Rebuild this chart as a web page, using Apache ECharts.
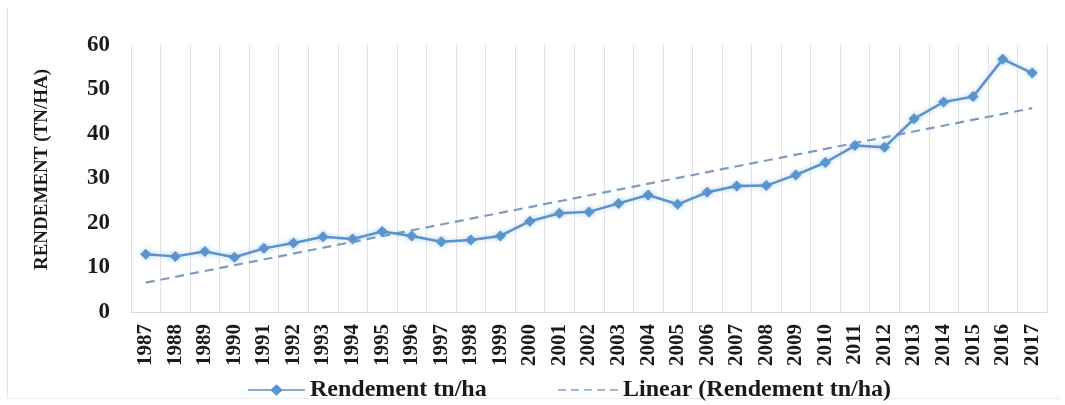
<!DOCTYPE html>
<html>
<head>
<meta charset="utf-8">
<script src="https://cdn.jsdelivr.net/npm/echarts@6/dist/echarts.min.js"></script>
<style>
html,body{margin:0;padding:0;background:#fff;}
#chart{width:1065px;height:405px;}
</style>
</head>
<body>
<div id="chart"></div>
<script>
const years = ['1987','1988','1989','1990','1991','1992','1993','1994','1995','1996','1997','1998','1999','2000','2001','2002','2003','2004','2005','2006','2007','2008','2009','2010','2011','2012','2013','2014','2015','2016','2017'];
const rendement = [13.0,12.5,13.6,12.3,14.3,15.5,16.9,16.4,18.1,17.1,15.8,16.2,17.1,20.4,22.2,22.5,24.4,26.3,24.2,26.9,28.3,28.4,30.8,33.6,37.4,37.0,43.4,47.2,48.4,56.8,53.7];
// trend line endpoints (1987 and 2017)
const trendStart = 6.6;
const trendEnd = 45.8;
const yTicks = { min: 0, max: 60, interval: 10 };
const seriesNames = ['Rendement tn/ha', 'Linear (Rendement tn/ha)'];
const yTitle = 'RENDEMENT (TN/HA)';

const trend = years.map((y, i) => i === 0 ? trendStart : (i === years.length - 1 ? trendEnd : null));

const font = 'Liberation Serif, Times New Roman, serif';
const legendText = { fontFamily: font, fontWeight: 'bold', fontSize: 24, color: '#1a1a1a' };
const chart = echarts.init(document.getElementById('chart'), null, {renderer: 'canvas'});
chart.setOption({
  backgroundColor: '#fff',
  animation: false,
  graphic: [
    { type: 'line', shape: { x1: 7.5, y1: 8, x2: 7.5, y2: 398 }, style: { stroke: '#e4e4e4', lineWidth: 1 } },
    { type: 'line', shape: { x1: 7, y1: 398.5, x2: 1060, y2: 398.5 }, style: { stroke: '#ececec', lineWidth: 1 } }
  ],
  grid: { left: 131, right: 18, top: 45, bottom: 93, containLabel: false },
  legend: [
    {
      left: 243, top: 373,
      itemWidth: 57, itemHeight: 12, itemGap: 6,
      textStyle: legendText,
      data: [{ name: seriesNames[0], icon: 'path://M0,5 L23,5 L28.5,0 L34,5 L57,5 L57,6.4 L34,6.4 L28.5,11.4 L23,6.4 L0,6.4 Z' }]
    },
    {
      left: 553, top: 373,
      itemWidth: 60, itemHeight: 12, itemGap: 6,
      textStyle: legendText,
      data: [{ name: seriesNames[1], icon: 'path://M0,0 L0.01,0 Z M0,5 h8 v1.8 h-8 Z M13,5 h8 v1.8 h-8 Z M26,5 h8 v1.8 h-8 Z M39,5 h8 v1.8 h-8 Z M52,5 h8 v1.8 h-8 Z M60,12 L59.99,12 Z',
               itemStyle: { color: '#8fb2db' } }]
    }
  ],
  xAxis: {
    type: 'category',
    data: years,
    boundaryGap: true,
    axisLine: { show: true, lineStyle: { color: '#d9d9d9', width: 1 } },
    axisTick: { show: false },
    splitLine: { show: true, interval: 0, lineStyle: { color: '#e3e3e3', width: 1 } },
    axisLabel: { interval: 0, rotate: 90, margin: 12, fontFamily: font, fontWeight: 'bold', fontSize: 21, color: '#1a1a1a' }
  },
  yAxis: {
    type: 'value',
    min: yTicks.min, max: yTicks.max, interval: yTicks.interval,
    axisLine: { show: false }, axisTick: { show: false }, splitLine: { show: false },
    axisLabel: { margin: 21, fontFamily: font, fontWeight: 'bold', fontSize: 23, color: '#1a1a1a' },
    name: yTitle, nameLocation: 'middle', nameGap: 79, nameRotate: 90,
    nameTextStyle: { fontFamily: font, fontWeight: 'bold', fontSize: 19, color: '#1a1a1a', padding: [0, 0, 0, 18] }
  },
  series: [
    {
      name: seriesNames[0], type: 'line', data: rendement,
      symbol: 'diamond', symbolSize: 11,
      lineStyle: { color: '#5b93cc', width: 2.5, shadowColor: 'rgba(91,155,213,0.45)', shadowBlur: 5 },
      itemStyle: { color: '#5b93cc', shadowColor: 'rgba(91,155,213,0.45)', shadowBlur: 5 },
      z: 3
    },
    {
      name: seriesNames[1], type: 'line', data: trend, connectNulls: true,
      symbol: 'none',
      lineStyle: { color: '#7f9bbd', width: 2.2, type: [9, 6] },
      itemStyle: { color: '#8fb2db' },
      z: 2
    }
  ]
});
</script>
</body>
</html>
